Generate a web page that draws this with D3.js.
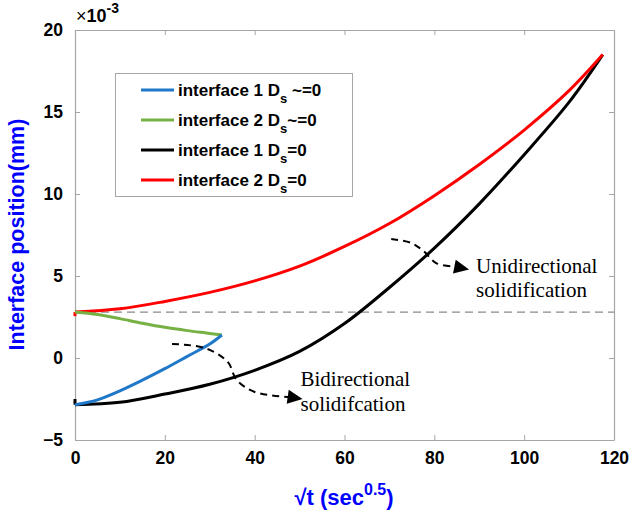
<!DOCTYPE html>
<html><head><meta charset="utf-8">
<script src="https://cdn.jsdelivr.net/npm/d3@7"></script>
<style>body{margin:0;background:#fff;}svg{display:block;}</style>
</head><body>
<script>
// ---- data (x = sqrt t, y in units of 1e-3 mm) ----
const xTicks = [0, 20, 40, 60, 80, 100, 120];
const yTicks = [-5, 0, 5, 10, 15, 20];
const seriesNames = ["interface 1 D", "interface 2 D", "interface 1 D", "interface 2 D"];
const seriesSuffix = [" ~=0", "~=0", "=0", "=0"];
const seriesColors = ["#1f78c8", "#77b144", "#000000", "#ff0000"];
const blueX = [0, 5, 10, 15, 20, 25, 30, 32.7];
const blueY = [-2.85, -2.55, -2.0, -1.35, -0.65, 0.1, 0.85, 1.4];
const greenX = [0, 5, 10, 15, 20, 25, 30, 32.7];
const greenY = [2.8, 2.65, 2.4, 2.12, 1.87, 1.67, 1.5, 1.4];
const blackX = [0, 0, 10, 20, 30, 40, 50, 60, 70, 80, 90, 100, 110, 117.5];
const blackY = [-2.5, -2.85, -2.7, -2.2, -1.6, -0.75, 0.4, 2.1, 4.3, 6.7, 9.4, 12.4, 15.6, 18.5];
const redX = [0, 0, 10, 20, 30, 40, 50, 60, 70, 80, 90, 100, 110, 117.5];
const redY = [2.55, 2.8, 3.0, 3.45, 4.0, 4.7, 5.6, 6.8, 8.2, 9.9, 11.8, 13.9, 16.3, 18.5];
const refLineY = 2.8;
const arrow1 = [[21.6,0.85],[28.9,0.61],[34.0,-0.24],[36.0,-1.34],[40.0,-2.07],[47.8,-2.38]];
const arrow2 = [[70.4,7.26],[74.9,7.01],[77.6,6.52],[80.4,5.79],[84.9,5.55]];

const W = 630, H = 518;
const m = {l: 75, r: 16, t: 30, b: 78};
const svg = d3.select("body").append("svg").attr("width", W).attr("height", H);
const x = d3.scaleLinear().domain([0, 120]).range([m.l, W - m.r]);
const y = d3.scaleLinear().domain([-5, 20]).range([H - m.b, m.t]);
const axisColor = "#a6a6a6";
const fontSans = "Arial, 'Liberation Sans', Helvetica, sans-serif";
const fontSerif = "'Times New Roman', 'Liberation Serif', serif";

// axes (ticks inward)
function styleAxis(g, noText) {
  g.select(".domain").attr("stroke", axisColor).attr("stroke-width", 1.2);
  g.selectAll(".tick line").attr("stroke", axisColor).attr("stroke-width", 1);
  g.selectAll(".tick text").attr("fill", "#000").attr("font-family", fontSans)
    .attr("font-weight", "bold").attr("font-size", 17.5);
  if (noText) g.selectAll(".tick text").remove();
}
svg.append("g").attr("transform", `translate(0,${y(-5)})`)
  .call(d3.axisBottom(x).tickValues(xTicks).tickSize(-5).tickPadding(12).tickSizeOuter(0))
  .call(g => styleAxis(g));
svg.append("g").attr("transform", `translate(0,${y(20)})`)
  .call(d3.axisTop(x).tickValues(xTicks).tickSize(-5).tickSizeOuter(0))
  .call(g => styleAxis(g, true));
svg.append("g").attr("transform", `translate(${x(0)},0)`)
  .call(d3.axisLeft(y).tickValues(yTicks).tickSize(-5).tickPadding(12).tickSizeOuter(0))
  .call(g => styleAxis(g));
svg.append("g").attr("transform", `translate(${x(120)},0)`)
  .call(d3.axisRight(y).tickValues(yTicks).tickSize(-5).tickSizeOuter(0))
  .call(g => styleAxis(g, true));

// exponent label
const ex = svg.append("text").attr("x", x(0) + 1).attr("y", y(20) - 8)
  .attr("font-family", fontSans).attr("font-weight", "bold").attr("font-size", 18).attr("fill", "#000");
ex.append("tspan").attr("font-weight", "normal").text("\u00d7");
ex.append("tspan").text("10");
ex.append("tspan").attr("dy", -9).attr("font-size", 14).text("-3");

// reference dashed line
svg.append("line").attr("x1", x(0)).attr("x2", x(120)).attr("y1", y(refLineY)).attr("y2", y(refLineY))
  .attr("stroke", "#8a8a8a").attr("stroke-width", 1.2).attr("stroke-dasharray", "8,5");

// series
const series = [
  d3.zip(blueX, blueY), d3.zip(greenX, greenY), d3.zip(blackX, blackY), d3.zip(redX, redY)
];
const line = d3.line().x(d => x(d[0])).y(d => y(d[1])).curve(d3.curveCatmullRom.alpha(0.5));
const drawOrder = [2, 3, 1, 0];
drawOrder.forEach(i => {
  const s = series[i];
  // leading vertical step (same x twice) drawn straight, rest smooth
  const start = (s.length > 1 && s[0][0] === s[1][0]) ? 1 : 0;
  if (start) {
    svg.append("path").datum(s.slice(0, 2)).attr("d", d3.line().x(d => x(d[0])).y(d => y(d[1])))
      .attr("fill", "none").attr("stroke", seriesColors[i]).attr("stroke-width", 3);
  }
  svg.append("path").datum(s.slice(start)).attr("d", line)
    .attr("fill", "none").attr("stroke", seriesColors[i]).attr("stroke-width", 3)
    .attr("stroke-linejoin", "round");
});

// arrows
const aline = d3.line().x(d => x(d[0])).y(d => y(d[1])).curve(d3.curveCatmullRom);
[arrow1, arrow2].forEach(a => {
  svg.append("path").datum(a).attr("d", aline).attr("fill", "none").attr("stroke", "#000")
    .attr("stroke-width", 2).attr("stroke-dasharray", "7,5");
  const p = a[a.length - 1], q = a[a.length - 2];
  const ang = Math.atan2(y(p[1]) - y(q[1]), x(p[0]) - x(q[0]));
  const tx = x(p[0]), ty = y(p[1]);
  svg.append("path").attr("transform", `translate(${tx},${ty}) rotate(${ang * 180 / Math.PI})`)
    .attr("d", "M-2,-7 L13,0 L-2,7 Z").attr("fill", "#000");
});

// annotation texts
function ann(px, py, lines, gap) {
  const t = svg.append("text").attr("font-family", fontSerif).attr("font-size", 21).attr("fill", "#000");
  lines.forEach((s, i) => t.append("tspan").attr("x", px).attr("y", py + i * gap).text(s));
}
ann(x(50.2), y(-1.68), ["Bidirectional", "solidifcation"], 25.5);
ann(x(89.3), y(5.2), ["Unidirectional", "solidification"], 24.5);

// legend
const lg = svg.append("g");
lg.append("rect").attr("x", 115.5).attr("y", 73.5).attr("width", 237).attr("height", 123)
  .attr("fill", "#fff").attr("stroke", "#a6a6a6").attr("stroke-width", 1);
seriesNames.forEach((n, i) => {
  const yy = 90 + i * 30;
  lg.append("line").attr("x1", 141).attr("x2", 174).attr("y1", yy).attr("y2", yy)
    .attr("stroke", seriesColors[i]).attr("stroke-width", 3);
  const t = lg.append("text").attr("x", 178).attr("y", yy + 6).attr("font-family", fontSans)
    .attr("font-weight", "bold").attr("font-size", 17).attr("fill", "#000");
  t.append("tspan").text(n);
  t.append("tspan").attr("dy", 7).attr("font-size", 13).text("s");
  t.append("tspan").attr("dy", -7).text(seriesSuffix[i]);
});

// axis labels
svg.append("text").attr("transform", `translate(24,${234.5}) rotate(-90)`).attr("text-anchor", "middle")
  .attr("font-family", fontSans).attr("font-weight", "bold").attr("font-size", 21.5).attr("fill", "#0000ff")
  .text("Interface position(mm)");
const xl = svg.append("text").attr("x", 344).attr("y", 505).attr("text-anchor", "middle")
  .attr("font-family", fontSans).attr("font-weight", "bold").attr("font-size", 22).attr("fill", "#0000ff");
xl.append("tspan").text("\u221At (sec");
xl.append("tspan").attr("dy", -10).attr("font-size", 16).text("0.5");
xl.append("tspan").attr("dy", 10).text(")");
</script>
</body></html>
